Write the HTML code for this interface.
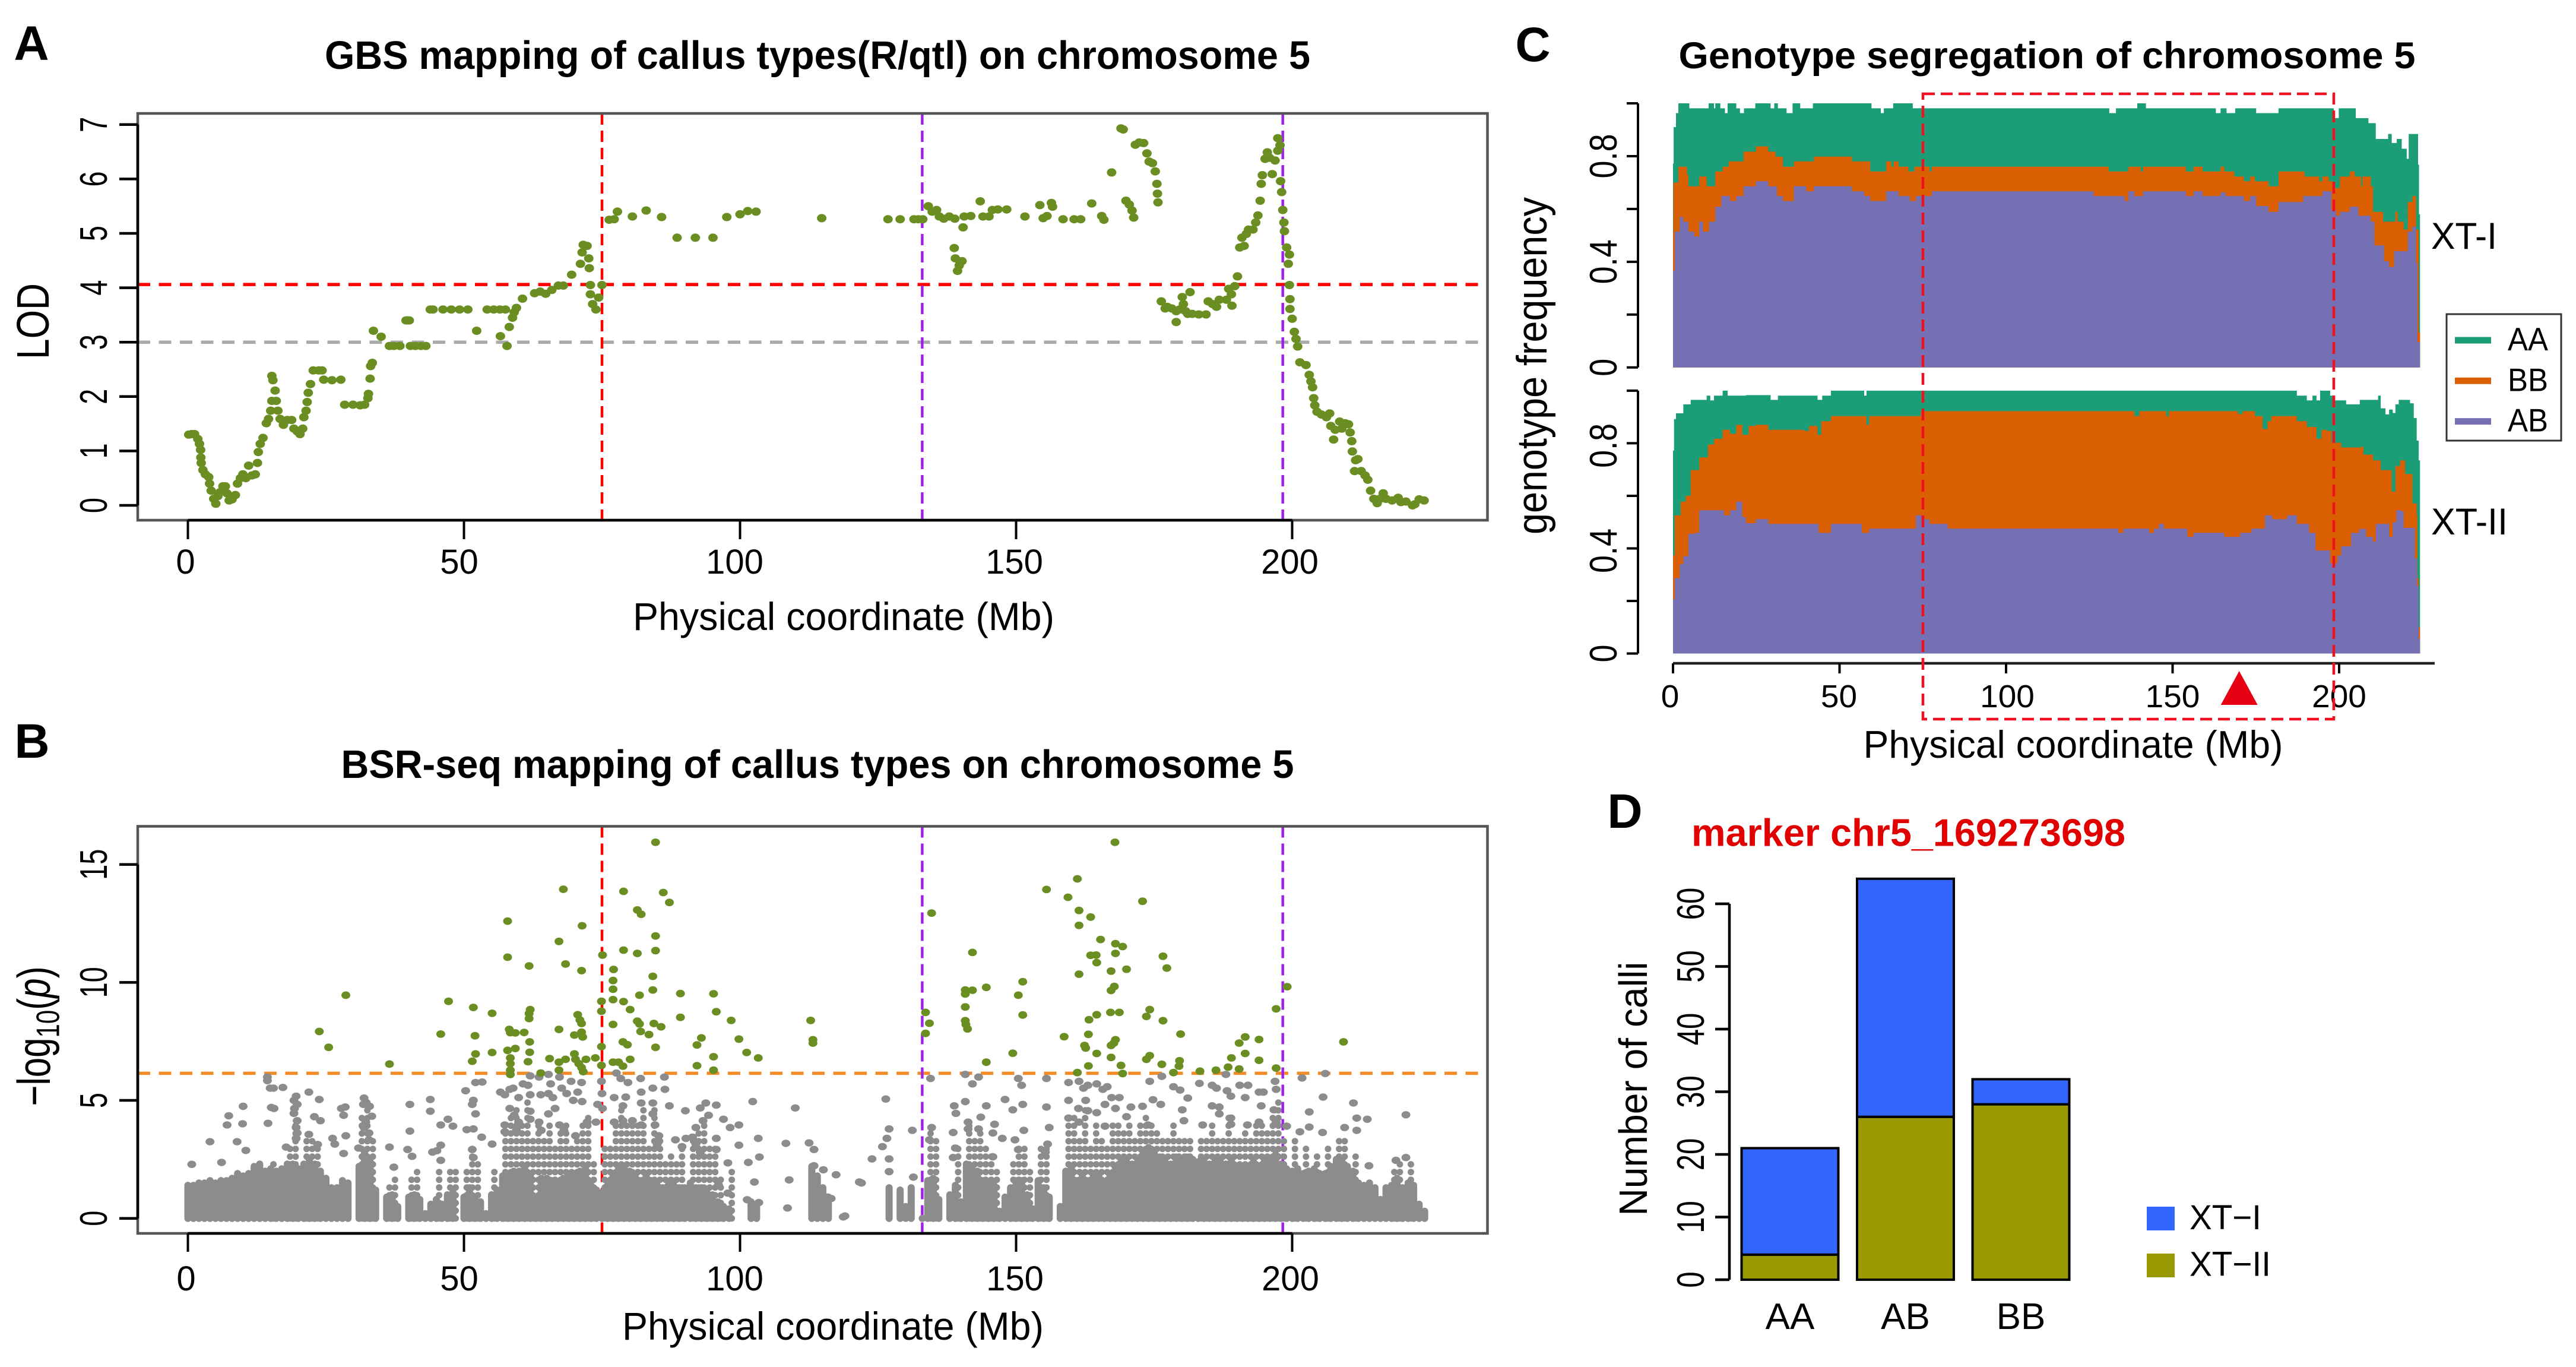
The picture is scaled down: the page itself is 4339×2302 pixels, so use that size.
<!DOCTYPE html>
<html lang="en">
<head>
<meta charset="utf-8">
<title>Chromosome 5 mapping figure</title>
<style>
html,body{margin:0;padding:0;background:#fff;}
svg{display:block;}
text{font-family:"Liberation Sans",sans-serif;fill:#000;}
.b{font-weight:bold;}
</style>
</head>
<body>
<svg id="fig" xmlns="http://www.w3.org/2000/svg" width="4339" height="2302" viewBox="0 0 4339 2302">
<rect width="4339" height="2302" fill="#fff"/>
<g id="root"></g>
</svg>
<script>
// ---------- Panel A data ----------
const lodMb=[0.15,0.7,1.2,1.8,2.1,2.3,2.34,2.41,2.72,3.17,3.77,3.92,4.22,4.68,5.05,5.43,5.81,6.34,6.79,7.09,7.47,8,8.6,8.98,9.5,9.96,10.5,11,11.6,12.2,12.6,12.75,13.1,13.6,
14.2,14.6,15,15.2,15.2,15.4,15.8,16,16.3,16.7,17.3,18,18.8,19.2,19.8,20.3,20.8,21,21.4,21.6,21.8,22.2,22.7,23.7,24.3,24.6,26.1,27.7,
28.4,29.9,31.2,32,32.6,32.7,33,33.1,33.4,33.6,35,36.5,37.3,38.4,40.3,41.2,42.2,43.1,39.8,39.5,40.1,
43.9,44.4,46.2,47.7,49.2,50.7,54.2,55.4,56.5,57.5,52.3,56.6,57.8,58.2,58.8,59.1,59.5,60.6,62.8,63.8,64.8,65.9,67.1,68,69.5,71.1,71.4,71.6,72.3,72.6,72.7,72.9,72.9,73.3,73.9,74.4,75,
76.3,77.2,77.8,80.5,83,85.8,88.6,91.9,95.1,97.6,100,101.4,102.9,
114.8,126.8,129,131.5,132.3,133.1,134.1,134.8,135.6,136.1,136.9,137.9,138.9,140.4,138.8,139,140.2,139.7,139.4,
140.6,141.8,143.5,144,145.1,145.7,146.7,148.3,151.6,154.3,154.9,155.6,156.4,156.6,158.5,160.5,161.7,163.7,165.5,165.9,167.3,
169,169.4,169.9,170.5,171,171.3,171.6,172.3,173.1,173.7,174.1,174.7,175.2,175.5,175.6,175.7,
176.3,177,177.4,178.2,179,179,179.6,180.1,180.3,180.7,181.1,181.5,181.9,183.1,184.4,184.8,185.6,186.3,186.8,188.1,188.5,189.1,189,189.6,190.1,
190.5,190.9,191.3,191.7,192.1,192.9,193.4,193.8,194.2,194.4,194.6,195.1,195.5,195.9,196.4,196.9,197.4,197.4,197.8,
197.9,198.1,198.3,198.5,198.6,199,199.5,199.3,199.5,199.6,199.6,200,200.4,200.7,201,
201.4,202.5,203.1,203.4,203.7,203.9,204.1,204.5,205.3,206.2,206.8,207,207.5,207.8,208.6,209,209.6,210.2,210.5,210.8,210.9,211.3,211.5,211.9,212.5,213.2,213.7,214.2,214.8,215.4,215.9,216.5,217,218.1,219.2,219.7,220.6,221.8,222.2,223,223.9];
const lodValues=[1.3,1.31,1.31,1.22,1.13,1.02,0.88,0.78,0.65,0.57,0.52,0.4,0.27,0.12,0.03,0.17,0.24,0.35,0.35,0.22,0.09,0.11,0.19,0.4,0.5,0.57,0.5,0.73,0.55,0.57,0.78,0.98,1.13,1.24,
1.51,1.59,1.74,1.92,2.38,2.3,2.11,1.92,1.74,1.59,1.48,1.57,1.57,1.41,1.36,1.31,1.41,1.62,1.74,1.9,2.07,2.23,2.48,2.48,2.48,2.31,2.3,2.31,
1.85,1.85,1.84,1.85,1.97,2.05,2.33,2.56,2.62,3.21,3.1,2.93,2.93,2.93,2.93,2.93,2.93,2.93,3.4,3.4,3.4,
3.6,3.6,3.6,3.6,3.6,3.6,3.6,3.6,3.6,3.6,3.21,3.11,2.93,3.28,3.45,3.55,3.63,3.8,3.9,3.93,3.89,3.96,4.04,4.04,4.24,4.44,4.65,4.79,4.77,4.54,4.36,4.05,3.88,3.7,3.6,3.82,4.05,
5.25,5.26,5.4,5.31,5.42,5.3,4.92,4.92,4.92,5.3,5.35,5.41,5.4,
5.28,5.26,5.26,5.26,5.26,5.26,5.5,5.4,5.43,5.31,5.27,5.31,5.27,5.11,4.73,4.54,4.49,4.41,4.31,
5.31,5.32,5.59,5.31,5.31,5.43,5.44,5.44,5.31,5.52,5.28,5.32,5.56,5.49,5.26,5.26,5.26,5.55,5.32,5.25,6.12,
6.93,6.91,5.6,5.53,5.42,5.29,6.63,6.67,6.66,6.47,6.32,6.29,6.14,5.91,5.73,5.57,
3.75,3.62,3.65,3.62,3.57,3.37,3.6,3.83,3.7,3.57,3.52,3.92,3.52,3.51,3.51,3.75,3.7,3.65,3.78,3.78,3.98,3.67,3.88,4.03,4.21,
4.74,4.92,4.77,4.99,5.07,5.07,5.2,5.33,5.6,5.91,6.07,6.37,6.49,6.39,6.09,6.34,6.52,6.75,6.62,
5.96,5.76,5.43,5.2,5.04,4.74,4.61,4.44,4.05,3.79,3.61,3.43,3.19,3.06,2.92,
2.63,2.58,2.4,2.28,2.17,1.97,1.84,1.72,1.67,1.62,1.69,1.46,1.21,1.39,1.54,1.41,1.51,1.49,1.34,1.18,0.99,0.63,0.83,0.85,0.63,0.55,0.47,0.27,0.12,0.04,0.12,0.22,0.12,0.09,0.14,0.06,0.07,0,0.02,0.11,0.09];
const lodThreshold=4.06;
const lodGrayThreshold=3;
const regionLines=[75,133,198.3];
const xTicksMb=[0,50,100,150,200];
const lodTicks=[0,1,2,3,4,5,6,7];

// ---------- Panel B data ----------
const sigMb=[84.7,68,78.9,86.1,87.2,81.4,82.1,57.9,71.4,84.7,67.2,78.9,84.7,81.4,75.1,57.9,68.4,61.8,71.3,77.1,84.2,77,84.2,77,81.8,89.2,95.2,28.6,47.2,74.9,77,78.9,80.1,51.7,62,55.1,74.9,95.7,61.8,61.8,70.6,71,71.3,89.2,81.4,81.8,84.4,85.7,77,98.4,112.8,67.2,58.2,58.4,59.3,60.9,82,23.8,45.8,52,70,71.3,71.5,83.5,93,99.8,61.9,78.8,79.6,92.2,113.2,113.2,84.7,74.9,25.5,57.9,59.3,55.1,61.9,52.1,101.2,51.5,58.4,65.5,67.2,68.4,70,70.2,70.8,72.1,73.8,74.9,77,78,80.1,78.8,95.2,103.3,61.6,58.4,36.5,92.2,71.3,67.2,58.4,58.4,63.9,95.2,71.6,
167.9,161.1,155.5,172.9,159.4,161.4,163.5,161.4,134.7,165.3,168,169.3,168,142.1,163.5,164.5,164.6,176.6,177.3,170,167.2,161.4,151.2,167.8,167.2,199.1,150.4,144.6,142.1,140.8,140.8,140.8,151.2,133.6,134.3,133.6,167.1,168.7,164.6,163.2,174.2,173.6,176.6,197.1,140.8,140.9,141.2,179.8,158.7,163.1,191.5,194,190.4,168,167.7,167.2,162.4,162.6,149.4,164.6,191.5,209.3,167.2,174.2,173.6,189,144.6,194,176.4,179.6,179.5,169,163.1,197.1,188.4,190.4,178.5,183.3,186.2,161.1,169.3];
const sigLogP=[15.94,13.95,13.86,13.81,13.39,13.07,12.89,12.6,12.4,11.97,11.74,11.37,11.35,11.23,11.16,11.07,10.78,10.7,10.5,10.55,10.26,10.08,9.68,9.71,9.46,9.53,9.52,9.46,9.2,9.2,9.27,9.19,8.85,8.94,8.85,8.69,8.78,8.76,8.68,8.47,8.63,8.41,8.26,8.52,8.36,8.24,8.26,8.12,8.22,8.39,8.39,8.01,8.01,7.87,7.86,7.88,7.92,7.92,7.81,7.74,7.77,7.89,7.69,7.79,7.65,7.6,7.48,7.48,7.36,7.35,7.57,7.43,7.25,7.28,7.25,7.12,7.2,7.03,7.04,6.97,7.03,6.66,6.8,6.77,6.62,6.74,6.97,6.74,6.56,6.74,6.8,6.48,6.62,6.62,6.74,6.45,6.85,6.8,6.64,6.56,6.54,6.47,6.39,6.28,6.28,6.1,6.16,6.28,6.22,
15.94,14.39,13.94,13.44,13.61,13.05,12.77,12.42,12.94,11.82,11.64,11.52,11.23,11.27,11.15,11.16,10.84,11.11,10.61,10.56,10.48,10.35,10.03,9.83,9.66,9.82,9.46,9.79,9.67,9.68,9.51,8.96,8.62,8.73,8.27,7.84,8.73,8.73,8.63,8.42,8.85,8.56,8.38,8.88,8.38,8.22,8.03,7.81,7.7,7.8,7.69,7.58,7.43,7.57,7.43,7.33,7.33,7.22,7,6.99,6.99,7.48,6.82,6.9,6.74,6.8,6.62,6.7,6.53,6.68,6.45,6.48,6.46,6.37,6.41,6.33,6.18,6.24,6.28,6.18,6.14];
const grayMb=[14.4,14.4,14.9,15.5,17.2,21.9,19.6,19.2,19.8,23.8,10,15.1,15.6,19.3,19.2,7.4,7.1,9.9,14.5,22.9,24,19.8,19.6,19.8,19.6,21.9,4,8.9,10.5,17.8,23.5,26.2,26.6,27.8,28.5,28.2,31.9,31.8,32.9,33.3,32.2,31.9,32.8,32.8,30.9,28.6,28.2,0.7,6.1,36.5,40.2,43.9,43.9,40.2,39.8,40.6,44.3,45.1,45.8,45.8,37.3,47.1,45.8,48,50.5,51.7,50.3,52.1,53.3,51.5,51.7,52.1,53.2,55.1,51.5,51.7,
56.6,57.4,58.3,58.9,59.9,60.7,62,61.6,62,62,63.6,63.9,65.3,65.7,65.3,66.1,67.3,67.7,68.6,69.4,69.8,71.3,70.6,71.4,74.2,75,74.9,77.6,78.4,79.7,77.2,78.8,79.3,82,82.1,82.1,84.2,84.2,86.3,86.4,87.2,84.2,58.3,59.1,59.9,59.5,57.4,57.4,62,63.6,64,65.3,66.5,67.3,68.1,70.2,72.3,73.9,75.1,77.2,78.8,80.5,82.1,84.6,85.3,85,88.3,90.1,90.2,91.4,92.8,93.8,95.7,94.3,93.3,92,97,98.2,99.8,102.3,110,103.3,99.8,108.3,103.5,101.5,97.8,95.7,95.7,92.8,92,89.5,113.4,113.4,115.1,113.8,108.9,102.6,101.3,103.4,102.3,108.6,114.2,115.9,97.8,96.1,
134.5,140.8,143.2,142.1,150.4,151,155.5,159.5,161.4,162.2,163,164.6,165.7,166.5,174.2,176.4,178.5,179.7,183.2,185.5,186.3,188,188.2,188.9,190.5,192,194,194.8,196.9,197.1,201.8,206,126.4,140.8,138.8,139.1,144.6,148,149.4,151.2,155.5,159.5,162.6,161.3,163,164.6,166.1,167.3,168.7,170.8,172.9,174.8,176.2,180.1,181.1,185.5,186.8,191.5,194.4,196.7,205.6,211.1,203.1,220.6,211.7,213.6,186.8,188.9,194,199,197.1,201.4,203.1,209.5,211.7,205.5,188.9,191.9,183.8,180.4,173.9,170,168,166.1,161.4,159.5,156,151.4,146.1,143.6,141.3,131.2,127,126.6,134.7,134.3,138.6,139,141.3,143.2,145.8,147.5,149.8,150.4,155.7,155.3,125.8,123.9,127,127,138.6,145.8,121.6,117.4,131.4,118.7,116.5,213.9,220.6,218.8,122,119,112.5];
const grayLogP=[5.99,5.84,5.52,5.52,5.55,5.35,5.18,5,4.83,5.04,4.75,4.7,4.66,4.66,4.45,4.35,3.96,4.01,4.03,4.31,4.14,4.14,3.85,3.62,3.39,3.56,3.25,3.25,2.88,3.02,3.13,3.39,3.15,4.66,4.72,4.37,5.1,4.83,4.75,4.33,4.08,3.85,3.62,3.33,2.98,3.5,2.75,2.29,2.37,3.02,4.83,5.04,4.54,3.7,2.92,2.63,2.81,2.87,3.1,2.46,2.17,4.2,3.96,3.91,3.76,3.79,5.41,5.76,5.78,4.83,5,4.43,3.44,3.15,2.92,2.58,
5.35,5.24,5.47,5.52,5.12,5.7,6.04,5.64,5.24,4.54,5.99,5.24,6.1,5.7,5.29,5.12,5.99,5.52,5.29,5.81,5,5.76,5.35,4.95,4.83,5.29,5.81,6.16,5.93,5.76,5.12,4.77,5.14,5.93,5.35,4.89,5.52,4.89,5.99,5.47,4.77,4.43,4.66,4.37,4.08,3.73,3.96,3.67,4.2,4.08,3.73,4.43,4.66,3.96,3.73,3.5,4.08,4.08,4.66,4.08,4.14,4.14,3.96,3.96,3.5,3.15,3.33,4.56,3.39,3.44,4.68,4.89,4.8,4.37,4.14,3.85,4.2,3.85,3.96,4.95,4.68,3.39,3.1,3.18,2.6,2.37,2.35,3.39,2.92,2.81,3.15,3.04,2.92,2.23,2.06,1.65,1.63,1.54,0.79,0.67,0.27,0.44,0.27,0.9,1.07,1.42,
5.93,6.1,5.99,5.7,5.93,5.64,5.93,5.76,5.81,5.52,5.64,5.7,5.47,5.58,5.81,6.02,5.58,5.44,5.72,5.64,5.52,6.1,5.41,5.18,5.64,5.64,5.35,5.35,5.81,5.47,5.95,6.14,5.06,4.95,4.77,4.45,4.77,5.04,4.6,4.83,4.72,5,5,4.66,4.56,4.48,4.83,5.12,5.12,4.72,4.75,5.03,4.83,4.6,5.1,4.77,4.72,5.12,4.77,4.6,5.14,4.89,4.51,4.39,4.25,4.2,4.43,4.25,4.08,3.91,4.08,3.67,3.87,3.85,3.73,3.64,3.99,3.96,3.96,4.14,3.96,4.31,4.66,3.91,4.08,4.25,3.85,3.73,3.99,4.29,4.08,3.73,3.79,3.39,3.85,3.33,3.64,2.98,3.79,3.79,3.62,3.39,3.33,2.92,3.15,2.81,3.04,2.52,2.52,1.98,2.58,2.61,1.54,1.85,1.75,0.06,0.84,2.23,2.58,2.46,1.5,0.1,3.2];
// solid low band per Mb, 0-99 Mb (-1 = empty)
const grayColumnsA=[1.4,1.4,1.5,1.5,1.6,1.5,1.6,1.6,1.7,1.9,1.8,1.9,2.2,2.3,2,2.1,2,2.1,2.3,2.3,2.1,2.3,2.5,2.3,2,1.7,1.3,1.3,1.6,1.5,-1,2.2,2.8,2.4,1.2,-1,0.9,1,0.5,-1,0.9,1,0.8,0.2,0.6,0.8,0.6,1,1.1,-1,0.9,1.3,0.9,0.7,0.2,1,1.2,1.8,1.9,2,2,2.2,1.8,0.9,1.7,1.7,1.6,1.5,1.7,1.8,1.9,2,2.1,1.4,1.2,1.1,1.4,1.9,2.1,2.2,2,1.8,1.6,1.8,1.6,1.4,1.3,1.4,1.4,1.3,1.3,1.5,1.3,1.3,1.1,1,0.7,0.5,0.4,-1];
// solid low band per Mb, 100-224 Mb (-1 = empty)
const grayColumnsB=[-1,-1,0.7,0.6,-1,-1,-1,-1,-1,-1,-1,-1,-1,2.2,1.8,1.3,0.9,-1,-1,-1,-1,-1,-1,-1,-1,-1,-1,1.3,-1,1.2,0.5,1.3,-1,0,1.6,1.7,0.8,-1,1,1.4,0.7,2.3,2.2,2,1.6,1.4,1.4,0.3,0.9,1.3,1.6,1.6,1,0.4,1.6,1.3,0.9,-1,0.5,2,2.2,1.6,1.8,1.6,1.8,1.8,1.5,1.8,2.2,2.4,2.4,2.3,2.4,2.8,3,2.8,2.6,2.4,2.3,2.6,2.5,2.6,2.5,2.4,2.5,2.3,2.4,2.4,2.3,2.5,2.2,2.2,2.2,2.4,2.2,2.5,2.5,2.7,2.3,2.1,2,2.1,1.9,2,2.1,1.9,1.9,2.2,2.5,2.5,2.2,2,1.5,1.4,1.5,1.3,0.8,1.3,1.4,1.7,1.3,1.5,1.4,0.6,0.3];
// vertical strands of overlapping points rising out of the band
const strandMb=[15.5,18.5,19.5,21.5,22.5,23.5,31.5,32.5,33.5,36.5,37.5,40.5,41.5,45.5,47.5,48.5,50.5,51.5,52.5,55.5,
57.5,58.5,59.5,60.5,61.5,62.5,63.5,64.5,65.5,66.5,67.5,68.5,69.5,70.5,71.5,72.5,73.5,75.5,76.5,77.5,78.5,79.5,80.5,81.5,82.5,83.5,84.5,85.5,86.5,87.5,88.5,89.5,91.5,92.5,93.5,94.5,95.5,96.5,98.5,
134.5,135.5,139.5,141.5,142.5,143.5,144.5,145.5,146.5,149.5,150.5,151.5,152.5,154.5,155.5,
159.5,160.5,161.5,162.5,163.5,164.5,165.5,166.5,167.5,168.5,169.5,170.5,171.5,172.5,173.5,174.5,175.5,176.5,177.5,178.5,179.5,180.5,181.5,183.5,184.5,185.5,186.5,187.5,188.5,189.5,190.5,191.5,192.5,193.5,194.5,195.5,196.5,197.5,198.5,
200.5,202.5,204.5,206.5,208.5,209.5,211.5,218.5,219.5,221.5];
const strandTop=[2.6,3,4,3.4,3.3,3,4.4,5,3.6,1.6,1.9,1.7,2.2,2,2,2,2,3,2.4,2,
3.9,4.3,4.6,4,5,3.6,4,3.4,4.2,3,3.8,4.2,3.2,3.6,4.2,4.5,2.6,3,3,4,4.6,4.2,4.2,4,4.8,3.2,4.6,3.4,2.6,2.8,2.6,3,3.4,3.8,4.2,3,3,1.8,2,
3.8,3.4,3,4.2,3.6,3.8,3,2.8,2.2,2.4,3,3,2,3,3,
4.2,4.4,3.6,4.6,3.2,4.2,3.6,3.2,4,4.2,3.8,4,3.6,4.2,4.4,4,3.8,3.4,3.4,4,3.4,3.6,3.4,3.4,3.6,4.2,3.4,3.6,4.4,3.6,3.6,3.8,3.4,4,4.2,3.8,4.4,5,3.4,
3.4,3,2.8,3,3.4,3.6,2.8,2,2.6,2.4];
const logPThreshold=6.15;
const logPTicks=[0,5,10,15];

// ---------- Panel C data: each series is a step curve ----------
const xt1TopMb=[0,0.2,0.9,1.6,4.9,9.4,10.7,12.3,12.7,14.2,15.6,16.4,19,20.1,21.3,24.7,29.3,30.4,31.5,34.1,35.9,38.2,42,59.6,62.4,63.3,66.1,72,131,133,139.4,142,163,164.4,166.2,168.8,175.1,181.8,198.4,199.9,205,208.8,211,214.7,215.8,217.3,218.8,220.3,220.9,223.1,223.7,224];
const xt1Top=[0.772,0.91,0.963,1,0.981,0.981,1,0.981,1,0.981,0.963,1,0.981,0.963,0.981,1,0.981,1,0.981,0.963,1,0.981,1,0.981,0.963,0.981,1,0.981,0.963,0.981,1,0.981,0.963,0.981,0.963,0.981,0.963,0.981,0.944,0.981,0.944,0.925,0.865,0.884,0.85,0.865,0.828,0.79,0.884,0.884,0.768,0.58];
const xt1MidMb=[0,0.1,1.6,4.2,4.6,6.4,7.9,10.1,12.7,14.9,16.7,19,21.2,24.9,28.6,30.8,33,36.3,42.3,53.7,59.2,64,65.5,66.3,67.7,70.7,72.5,77,77.7,126.3,130.8,136.7,140.4,141.1,154,156.3,159,164.4,165.5,168.5,171.4,173.3,174.7,178.8,181.8,189.6,194,195,196.9,198.1,200.2,203.2,204.7,206.6,207,209.5,210.2,211.7,213.2,216.9,217.6,219.4,220.6,222,223.1,223.9];
const xt1Mid=[0.514,0.7,0.76,0.73,0.686,0.686,0.723,0.686,0.742,0.76,0.78,0.78,0.817,0.837,0.817,0.798,0.76,0.78,0.798,0.78,0.742,0.78,0.76,0.78,0.76,0.742,0.76,0.742,0.76,0.76,0.742,0.76,0.742,0.76,0.742,0.76,0.742,0.76,0.742,0.723,0.705,0.723,0.705,0.686,0.742,0.723,0.705,0.723,0.705,0.679,0.723,0.742,0.723,0.686,0.723,0.686,0.589,0.589,0.552,0.589,0.552,0.522,0.626,0.649,0.522,0.133];
const xt1LowMb=[0,0.5,2,3.1,4.6,6.4,7.9,9,10.8,12.7,14.5,17.1,19,21.2,24.9,28.6,31.2,33,36.3,40,42.3,53.7,57.4,59.2,64,67.7,71.1,72.9,77.7,126.3,135.6,136.7,138.5,141.1,154,156.3,159,164.4,165.9,171.4,173.3,175.1,178.8,181.8,189.2,195,197.7,199.1,200.2,203.2,205.8,209.5,210.6,213.5,215,216.5,219.4,220.6,221.9,223.1,223.5];
const xt1Low=[0.365,0.514,0.57,0.552,0.514,0.496,0.552,0.514,0.552,0.608,0.649,0.63,0.649,0.686,0.705,0.686,0.649,0.63,0.686,0.667,0.686,0.667,0.649,0.63,0.667,0.649,0.63,0.649,0.667,0.649,0.63,0.667,0.649,0.667,0.649,0.667,0.649,0.663,0.649,0.63,0.649,0.611,0.589,0.626,0.649,0.667,0.596,0.574,0.589,0.608,0.574,0.552,0.462,0.402,0.38,0.44,0.44,0.514,0.533,0.395,0.096];
const xt2TopMb=[0,0.3,0.9,3.1,5.3,10.1,11.2,12.3,14.9,16.4,21.9,29.3,31.5,43.4,44.8,47.4,57.4,58.1,58.9,187.3,190.3,192,193.2,194.3,197.3,198.8,202.1,206.2,211.7,212.5,213.9,215,216.1,216.9,217.9,221.3,222.4,223.3,223.9];
const xt2Top=[0.772,0.892,0.914,0.948,0.965,0.981,0.963,0.981,1,0.981,0.983,0.965,0.981,0.965,0.981,1,0.981,1,1,0.981,0.963,0.981,0.963,1,0.981,0.963,0.948,0.965,0.981,0.933,0.91,0.928,0.915,0.948,0.965,0.952,0.896,0.81,0.735];
const xt2MidMb=[0,0.5,2.3,3.8,5.3,7.1,7.9,10.5,12.3,14.9,17.1,19,20.8,22.7,24.9,28.6,39.3,40.8,43.4,44.5,47.4,56.7,58.1,58.9,74.4,138.5,140,148.1,148.9,169.6,171,174.7,177,178.5,179.6,187.3,190.3,193.2,194.7,196.2,197.7,200.6,206.6,207.3,210.2,212.5,215.8,216.9,218.3,219.8,222,223.3,223.5,223.9];
const xt2Mid=[0.373,0.526,0.578,0.6,0.698,0.698,0.746,0.795,0.817,0.851,0.836,0.87,0.832,0.866,0.87,0.851,0.847,0.866,0.832,0.884,0.903,0.903,0.87,0.903,0.922,0.903,0.922,0.903,0.922,0.911,0.922,0.903,0.854,0.884,0.903,0.884,0.862,0.817,0.851,0.847,0.802,0.784,0.787,0.757,0.735,0.698,0.616,0.713,0.735,0.683,0.571,0.526,0.287,0.1];
const xt2LowMb=[0,0.5,2,3.1,4.6,6.4,7.9,15.3,17.1,19,20.8,21.9,24.9,28.6,43.7,47.4,56.7,58.9,72.9,75.1,77,82.5,133.7,135.2,143,144.4,145.9,147.4,154.4,156.3,165.5,170.3,173.7,177.7,179.9,184.4,187.3,191,192.9,195.8,197.3,199.5,200.6,203.6,206,208.1,210.2,211,215,216.1,217.2,218.7,219.4,220.9,222.7,223.4,223.9];
const xt2Low=[0.205,0.287,0.34,0.37,0.455,0.459,0.545,0.526,0.545,0.578,0.519,0.496,0.511,0.493,0.459,0.493,0.459,0.475,0.526,0.511,0.493,0.475,0.459,0.475,0.459,0.475,0.493,0.475,0.444,0.459,0.444,0.459,0.475,0.526,0.511,0.526,0.493,0.459,0.392,0.392,0.343,0.373,0.408,0.459,0.474,0.444,0.425,0.493,0.444,0.5,0.545,0.541,0.478,0.478,0.362,0.257,0.056];
const freqTicks=[0,0.2,0.4,0.6,0.8,1];
const freqLabels=["0","","0.4","","0.8",""];
const markerMb=[170];
const genotypeLegend=["AA","BB","AB"];

// ---------- Panel D data ----------
const genotypes=["AA","AB","BB"];
const callusXT2=[4,26,28];
const callusXT1=[17,38,4];
const calliTicks=[0,10,20,30,40,50,60];

// ---------- scales ----------
const xA=v=>316.5+9.3*v;
const yA=v=>851-91.6*v;
const yB=v=>2051.7-39.73*v;
const xC=v=>2818+5.61*v;
const yC1=v=>618.7-444.7*v;
const yC2=v=>1100.5-442.6*v;
const yD=v=>2155-10.55*v;
const barLeft=i=>2933.5+194.5*i;
const barW=163;

const NS="http://www.w3.org/2000/svg";
const root=document.getElementById('root');
function mk(tag,attrs,parent){
  const el=document.createElementNS(NS,tag);
  for(const k in attrs){el.setAttribute(k,attrs[k]);}
  (parent||root).appendChild(el);
  return el;
}
function group(name){
  const g=mk('g',{});
  
  
  return g;
}
function ln(p,x1,y1,x2,y2,col,w,dash,name){
  const el=mk('line',{x1:x1,y1:y1,x2:x2,y2:y2,stroke:col,'stroke-width':w},p);
  if(dash){el.setAttribute('stroke-dasharray',dash);}
  
  
  return el;
}
function txt(p,s,x,y,size,opts,name){
  opts=opts||{};
  const t=mk('text',{'font-size':size,'text-anchor':opts.anchor||'middle'},p);
  t.textContent=s;
  let tr='translate('+x+','+y+')';
  if(opts.rot){tr+=' rotate(-90)';}
  if(opts.ratio){tr+=' scale(1,'+opts.ratio+')';}
  t.setAttribute('transform',tr);
  if(opts.bold){t.setAttribute('font-weight','bold');}
  if(opts.fill){t.setAttribute('style','fill:'+opts.fill);}
  if(opts.len){t.setAttribute('textLength',opts.len);t.setAttribute('lengthAdjust','spacingAndGlyphs');}
  
  
  return t;
}
function stepPath(xs,vs,sx,sy,endMb){
  let d='M'+sx(xs[0]).toFixed(1)+' '+sy(0).toFixed(1);
  for(let i=0;i<xs.length;i++){
    const nx=i+1<xs.length?xs[i+1]:endMb;
    const y=sy(vs[i]).toFixed(1);
    d+='L'+sx(xs[i]).toFixed(1)+' '+y+'L'+sx(nx).toFixed(1)+' '+y;
  }
  return d+'L'+sx(endMb).toFixed(1)+' '+sy(0).toFixed(1)+'Z';
}

// ---------- Panel letters ----------
const letters=group('panel-letters');
txt(letters,'A',53,101,82,{bold:true},'panel-letter-a');
txt(letters,'B',54,1276,82,{bold:true},'panel-letter-b');
txt(letters,'C',2582,103,82,{bold:true},'panel-letter-c');
txt(letters,'D',2737,1394,82,{bold:true},'panel-letter-d');

// ---------- Panel A ----------
const pa=group('panel-a-lod-chart');
txt(pa,'GBS mapping of callus types(R/qtl) on chromosome 5',1377,116,62,{bold:true,len:1660,ratio:1.08},'panel-a-title');
const aPts=group('lod-points');
for(let i=0;i<Math.min(lodMb.length,lodValues.length);i++){
  const el=mk('ellipse',{cx:xA(lodMb[i]).toFixed(1),cy:yA(lodValues[i]).toFixed(1),rx:8,ry:7,fill:'#6b8e23'},aPts);
  
  
}
ln(pa,232,yA(lodThreshold),2505,yA(lodThreshold),'#ff0000',5.5,'21 14.5','lod-threshold-line');
ln(pa,232,yA(lodGrayThreshold),2505,yA(lodGrayThreshold),'#aaaaaa',5.5,'21 14.5','lod-3-reference-line');
regionLines.forEach(function(v,i){
  ln(pa,xA(v),191,xA(v),876,i===0?'#ff0000':'#a020f0',4.5,'19 10','region-boundary-line');
});
mk('rect',{x:232,y:191,width:2273.5,height:685,fill:'none',stroke:'#555','stroke-width':4.5,},pa);
ln(pa,xA(0),876,xA(200),876,'#000',4.5,null,'panel-a-x-axis');
xTicksMb.forEach(function(v,i){
  ln(pa,xA(v),876,xA(v),908,'#000',4,null,'panel-a-x-tick');
  txt(pa,String(v),xA(v)-[4,8,9,3,4][i],966,58,{},'panel-a-x-tick-label');
});
ln(pa,232,yA(0),232,yA(7),'#000',4.5,null,'panel-a-y-axis');
lodTicks.forEach(function(v){
  ln(pa,201,yA(v),232,yA(v),'#000',4.5,null,'panel-a-y-tick');
  txt(pa,String(v),180,yA(v),47,{rot:true,ratio:1.38},'panel-a-y-tick-label');
});
txt(pa,'LOD',82,541,62,{rot:true,ratio:1.24,len:128},'panel-a-y-title');
txt(pa,'Physical coordinate (Mb)',1421,1061,62,{len:710,ratio:1.06},'panel-a-x-title');

// ---------- Panel B ----------
const pb=group('panel-b-bsr-chart');
txt(pb,'BSR-seq mapping of callus types on chromosome 5',1377,1310,62,{bold:true,len:1605,ratio:1.08},'panel-b-title');
const grayCols=group('nonsignificant-dense-columns');
grayColumnsA.forEach(function(h,i){
  if(h<0){return;}
  const el=mk('line',{x1:xA(i).toFixed(1),x2:xA(i).toFixed(1),y1:yB(0).toFixed(1),y2:yB(h).toFixed(1),stroke:'#8c8c8c','stroke-width':12,'stroke-linecap':'round'},grayCols);
  
  
});
grayColumnsB.forEach(function(h,i){
  if(h<0){return;}
  const mb=100+i;
  const el=mk('line',{x1:xA(mb).toFixed(1),x2:xA(mb).toFixed(1),y1:yB(0).toFixed(1),y2:yB(h).toFixed(1),stroke:'#8c8c8c','stroke-width':12,'stroke-linecap':'round'},grayCols);
  
  
});
const strands=group('nonsignificant-point-strands');
for(let i=0;i<Math.min(strandMb.length,strandTop.length);i++){
  const el=mk('line',{x1:xA(strandMb[i]).toFixed(1),x2:xA(strandMb[i]).toFixed(1),y1:yB(0).toFixed(1),y2:yB(strandTop[i]).toFixed(1),stroke:'#8c8c8c','stroke-width':11,'stroke-linecap':'round','stroke-dasharray':'0 13'},strands);
  
  
}
const grayPts=group('nonsignificant-points');
for(let i=0;i<Math.min(grayMb.length,grayLogP.length);i++){
  const el=mk('ellipse',{cx:xA(grayMb[i]).toFixed(1),cy:yB(grayLogP[i]).toFixed(1),rx:7.5,ry:6.2,fill:'#8c8c8c'},grayPts);
  
  
}
const sigPts=group('significant-points');
for(let i=0;i<Math.min(sigMb.length,sigLogP.length);i++){
  const el=mk('ellipse',{cx:xA(sigMb[i]).toFixed(1),cy:yB(sigLogP[i]).toFixed(1),rx:7.5,ry:6.4,fill:'#6b8e23'},sigPts);
  
  
}
ln(pb,232,yB(logPThreshold),2505,yB(logPThreshold),'#f28c28',5.5,'21 14.5','significance-threshold-line');
regionLines.forEach(function(v,i){
  ln(pb,xA(v),1391.5,xA(v),2077,i===0?'#ff0000':'#a020f0',4.5,'19 10','region-boundary-line');
});
mk('rect',{x:232,y:1391.5,width:2273.5,height:685.5,fill:'none',stroke:'#555','stroke-width':4.5,},pb);
ln(pb,xA(0),2077,xA(200),2077,'#000',4.5,null,'panel-b-x-axis');
xTicksMb.forEach(function(v,i){
  ln(pb,xA(v),2077,xA(v),2108,'#000',4,null,'panel-b-x-tick');
  txt(pb,String(v),xA(v)-[3,8,9,2,3][i],2173,58,{},'panel-b-x-tick-label');
});
ln(pb,232,yB(0),232,yB(15),'#000',4.5,null,'panel-b-y-axis');
logPTicks.forEach(function(v){
  ln(pb,201,yB(v),232,yB(v),'#000',4.5,null,'panel-b-y-tick');
  txt(pb,String(v),180,yB(v),47,{rot:true,ratio:1.38},'panel-b-y-tick-label');
});
const logTitle=txt(pb,'',84,1745,60,{rot:true,ratio:1.3},'panel-b-y-title');
logTitle.innerHTML='−log<tspan font-size="42" dy="12">10</tspan><tspan dy="-12">(</tspan><tspan font-style="italic">p</tspan>)';
txt(pb,'Physical coordinate (Mb)',1403,2256,62,{len:710,ratio:1.06},'panel-b-x-title');

// ---------- Panel C ----------
const pc=group('panel-c-segregation-chart');
txt(pc,'Genotype segregation of chromosome 5',3448,115,58,{bold:true,len:1241,ratio:1.08},'panel-c-title');
const areaColors=['#1b9e77','#d95f02','#7570b3'];
const areaNames=['aa-area','bb-area','ab-area'];
[[xt1TopMb,xt1Top],[xt1MidMb,xt1Mid],[xt1LowMb,xt1Low]].forEach(function(s,i){
  const el=mk('path',{d:stepPath(s[0],s[1],xC,yC1,224.3),fill:areaColors[i]},pc);
  
  
});
[[xt2TopMb,xt2Top],[xt2MidMb,xt2Mid],[xt2LowMb,xt2Low]].forEach(function(s,i){
  const el=mk('path',{d:stepPath(s[0],s[1],xC,yC2,224.3),fill:areaColors[i]},pc);
  
  
});
[yC1,yC2].forEach(function(sy,k){
  ln(pc,2759,sy(0),2759,sy(1),'#000',4,null,'panel-c-y-axis');
  freqTicks.forEach(function(v,i){
    ln(pc,2740,sy(v),2759,sy(v),'#000',4,null,'panel-c-y-tick');
    if(freqLabels[i]){
      txt(pc,freqLabels[i],2723,sy(v)+(k===1&&v>0?4:0),54,{rot:true,ratio:1.2},'panel-c-y-tick-label');
    }
  });
});
ln(pc,2818,1117,4101,1117,'#222',4.5,null,'panel-c-x-axis');
xTicksMb.forEach(function(v,i){
  ln(pc,xC(v),1117,xC(v),1134,'#000',4,null,'panel-c-x-tick');
  txt(pc,String(v),xC(v)+[-5,-1,2,0,0][i],1191,55,{ratio:0.98},'panel-c-x-tick-label');
});
mk('rect',{x:3239,y:158,width:692,height:1053,fill:'none',stroke:'#f01020','stroke-width':4.5,'stroke-dasharray':'20 10',},pc);
markerMb.forEach(function(v){
  const c=xC(v);
  const el=mk('polygon',{points:(c-31)+',1187 '+c+',1130 '+(c+31)+',1187',fill:'#e60012'},pc);
  
  
});
txt(pc,'genotype frequency',2605,616,62,{rot:true,ratio:1.15,len:568},'panel-c-y-title');
txt(pc,'Physical coordinate (Mb)',3492,1276,60,{len:707,ratio:1.08},'panel-c-x-title');
txt(pc,'XT-I',4095,419,56,{anchor:'start',len:111,ratio:1.12},'xt1-label');
txt(pc,'XT-II',4095,900,56,{anchor:'start',len:129,ratio:1.12},'xt2-label');
const legC=group('genotype-legend');
mk('rect',{x:4121,y:529,width:193,height:213,fill:'#fff',stroke:'#333','stroke-width':3,},legC);
genotypeLegend.forEach(function(s,i){
  const y=573+68.3*i;
  ln(legC,4135,y,4196,y,areaColors[i],11,null,'genotype-legend-swatch');
  txt(legC,s,4224,y+17,51,{anchor:'start',ratio:1.08},'genotype-legend-label');
});

// ---------- Panel D ----------
const pd=group('panel-d-bar-chart');
txt(pd,'marker chr5_169273698',3214.5,1424.6,60,{bold:true,len:731,fill:'#e00000',ratio:1.08},'panel-d-title');
genotypes.forEach(function(g,i){
  const lo=mk('rect',{x:barLeft(i),y:yD(callusXT2[i]),width:barW,height:yD(0)-yD(callusXT2[i]),fill:'#999900',stroke:'#000','stroke-width':4},pd);
  
  
  const up=mk('rect',{x:barLeft(i),y:yD(callusXT2[i]+callusXT1[i]),width:barW,height:yD(callusXT2[i])-yD(callusXT2[i]+callusXT1[i]),fill:'#3366ff',stroke:'#000','stroke-width':4},pd);
  
  
  txt(pd,g,barLeft(i)+barW/2,2238,62,{},'panel-d-x-label');
});
ln(pd,2913,yD(0),2913,yD(60),'#000',4.5,null,'panel-d-y-axis');
calliTicks.forEach(function(v){
  ln(pd,2889,yD(v),2913,yD(v),'#000',4.5,null,'panel-d-y-tick');
  txt(pd,String(v),2870,yD(v),49,{rot:true,ratio:1.33},'panel-d-y-tick-label');
});
txt(pd,'Number of calli',2774,1833.5,64,{rot:true,len:428,ratio:1.05},'panel-d-y-title');
mk('rect',{x:3616,y:2032,width:47,height:40,fill:'#3366ff',},pd);
mk('rect',{x:3616,y:2111,width:47,height:40,fill:'#999900',},pd);
txt(pd,'XT−I',3688,2070,58,{anchor:'start',len:121},'legend-label-xt1');
txt(pd,'XT−II',3688,2148.6,58,{anchor:'start',len:137},'legend-label-xt2');
</script>
</body>
</html>
